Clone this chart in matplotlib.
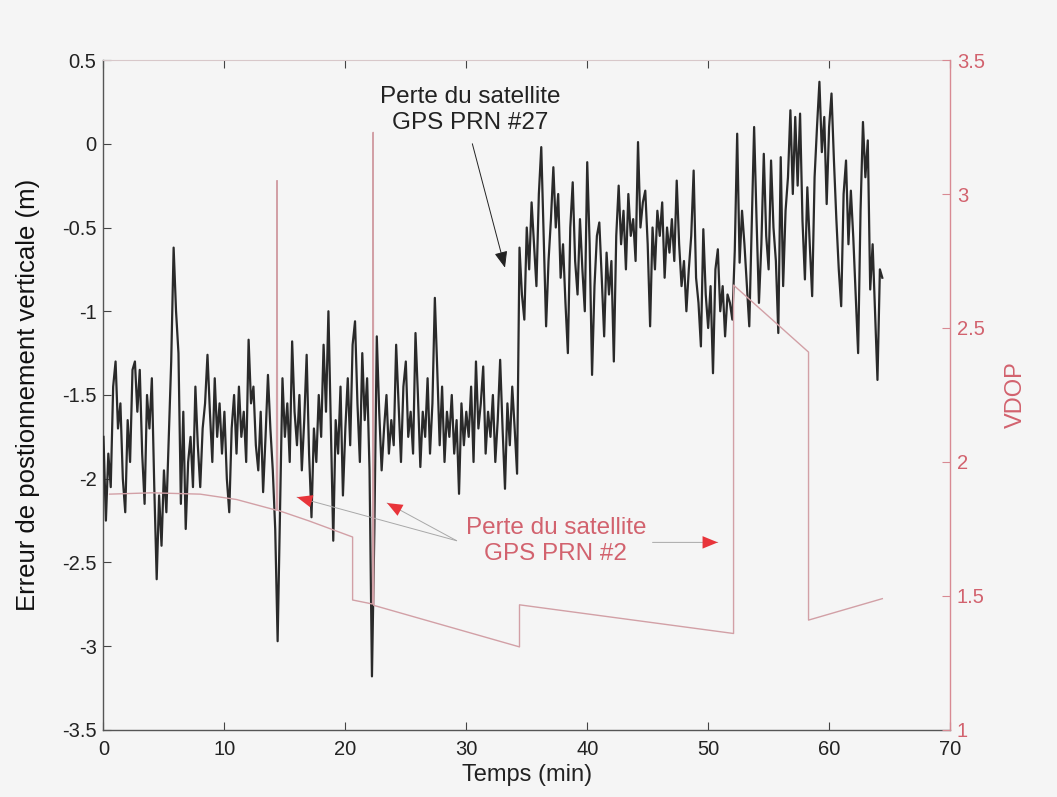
import numpy as np
import matplotlib
matplotlib.use("Agg")
import matplotlib.pyplot as plt

plt.rcParams['font.family'] = ['Liberation Sans', 'DejaVu Sans']

# Vertical positioning error (m), sampled every 0.2 min, in three runs
dt = 0.2
run_starts = [0.0, 34.4, 52.2]
err_run1 = [
    -1.75, -2.25, -1.85, -2.05, -1.45, -1.3, -1.7, -1.55, -2.0, -2.2,
    -1.65, -1.9, -1.35, -1.3, -1.6, -1.35, -1.85, -2.15, -1.5, -1.7,
    -1.4, -2.05, -2.6, -2.1, -2.4, -1.95, -2.2, -1.75, -1.3, -0.62,
    -1.0, -1.25, -2.15, -1.6, -2.3, -1.9, -1.75, -2.05, -1.45, -1.8,
    -2.05, -1.7, -1.55, -1.26, -1.6, -1.9, -1.4, -1.75, -1.55, -1.85,
    -1.6, -2.0, -2.2, -1.7, -1.5, -1.85, -1.45, -1.75, -1.6, -1.9,
    -1.17, -1.55, -1.45, -1.8, -1.95, -1.6, -2.08, -1.75, -1.38, -1.7,
    -1.95, -2.3, -2.97, -2.2, -1.4, -1.75, -1.55, -1.9, -1.18, -1.6,
    -1.8, -1.5, -1.95, -1.65, -1.26, -1.85, -2.23, -1.7, -1.9, -1.5,
    -1.75, -1.2, -1.6, -1.0, -1.7, -2.37, -1.65, -1.85, -1.45, -2.1,
    -1.7, -1.4, -1.8, -1.2, -1.06, -1.55, -1.9, -1.25, -1.65, -1.4,
    -1.95, -3.18, -2.3, -1.15, -1.6, -1.95, -1.7, -1.5, -1.85, -1.65,
    -1.8, -1.2, -1.55, -1.9, -1.45, -1.3, -1.75, -1.6, -1.85, -1.13,
    -1.5, -1.93, -1.6, -1.75, -1.4, -1.85, -1.55, -0.92, -1.35, -1.8,
    -1.45, -1.9, -1.6, -1.75, -1.5, -1.85, -1.65, -2.09, -1.55, -1.8,
    -1.6, -1.75, -1.45, -1.9, -1.3, -1.7, -1.55, -1.33, -1.85, -1.6,
    -1.75, -1.5, -1.9, -1.65, -1.29, -1.7, -2.06, -1.55, -1.8, -1.45,
    -1.7, -1.97,
]
err_run2 = [
    -0.62, -0.9, -1.05, -0.5, -0.75, -0.35, -0.6, -0.85, -0.3, -0.02,
    -0.55, -1.09, -0.7, -0.45, -0.14, -0.5, -0.3, -0.8, -0.6, -0.95,
    -1.25, -0.5, -0.23, -0.7, -0.9, -0.45, -0.75, -1.0, -0.11, -0.6,
    -1.38, -0.85, -0.55, -0.47, -0.8, -1.15, -0.65, -0.9, -0.7, -1.3,
    -0.55, -0.25, -0.6, -0.4, -0.75, -0.3, -0.55, -0.45, -0.7, 0.01,
    -0.5, -0.35, -0.28, -0.6, -1.09, -0.5, -0.75, -0.4, -0.55, -0.35,
    -0.8, -0.5, -0.65, -0.45, -0.7, -0.22, -0.6, -0.85, -0.7, -1.0,
    -0.75, -0.55, -0.16, -0.8, -0.95, -1.21, -0.51, -0.9, -1.1, -0.85,
    -1.37, -0.75, -0.63, -1.0, -0.85, -1.15, -0.9, -0.95, -1.05,
]
err_run3 = [
    -0.64, 0.06, -0.71, -0.4, -0.6, -0.85, -1.09, -0.5, 0.1, -0.45,
    -0.95, -0.6, -0.06, -0.55, -0.75, -0.1, -0.5, -0.7, -1.13, -0.08,
    -0.85, -0.4, -0.2, 0.2, -0.3, 0.16, -0.25, 0.18, -0.46, -0.81,
    -0.26, -0.6, -0.91, -0.2, 0.1, 0.37, -0.05, 0.16, -0.36, 0.1,
    0.3, -0.1, -0.45, -0.75, -0.97, -0.3, -0.1, -0.6, -0.28, -0.56,
    -0.9, -1.25, -0.4, 0.13, -0.2, 0.02, -0.87, -0.6, -1.0, -1.41,
    -0.75, -0.8,
]

# VDOP vertices (min, VDOP)
vdop_t = [0.5, 4.0, 8.0, 11.0, 14.3, 14.35, 14.4, 17.0, 20.6, 20.6,
          22.25, 22.3, 22.35, 34.4, 34.4, 52.1, 52.1, 58.3, 58.3, 64.4]
vdop_v = [1.88, 1.885, 1.88, 1.86, 1.82, 3.05, 1.82, 1.78, 1.72, 1.485,
          1.47, 3.23, 1.465, 1.31, 1.467, 1.36, 2.66, 2.41, 1.41, 1.49]

x_ticks = [0, 10, 20, 30, 40, 50, 60, 70]
y_ticks = [-3.5, -3, -2.5, -2, -1.5, -1, -0.5, 0, 0.5]
y_tick_labels = ['-3.5', '-3', '-2.5', '-2', '-1.5', '-1', '-0.5', '0', '0.5']
v_ticks = [1, 1.5, 2, 2.5, 3, 3.5]
v_tick_labels = ['1', '1.5', '2', '2.5', '3', '3.5']

bg = '#f5f5f5'
red_txt = '#d2626e'
red_axis = '#d88a93'
arrow_red = '#e8343a'

fig = plt.figure(figsize=(10.57, 7.97), dpi=100, facecolor=bg)
ax = fig.add_axes([0.0979, 0.0841, 0.8009, 0.8406])
ax.set_facecolor(bg)

all_t = np.concatenate([s + dt * np.arange(len(v)) for s, v in
                        zip(run_starts, [err_run1, err_run2, err_run3])])
all_v = np.concatenate([err_run1, err_run2, err_run3])
ax.plot(all_t, all_v, color='#2a2a2a', lw=1.6, zorder=3)

ax.set_xlim(0, 70)
ax.set_ylim(-3.5, 0.5)
ax.set_xticks(x_ticks)
ax.set_yticks(y_ticks)
ax.set_yticklabels(y_tick_labels)
ax.tick_params(direction='in', length=6, width=0.8, colors='#444444',
               labelsize=14.5, labelcolor='#222222', top=True, right=False)
ax.tick_params(axis='x', pad=7)
ax.tick_params(axis='y', pad=5)
for side in ['left', 'bottom']:
    ax.spines[side].set_color('#555555')
    ax.spines[side].set_linewidth(1.0)
ax.spines['top'].set_color('#d8c8ca')
ax.spines['right'].set_visible(False)
ax.set_xlabel('Temps (min)', fontsize=17, color='#222222', labelpad=4)
ax.set_ylabel('Erreur de postionnement verticale (m)', fontsize=18.5,
              color='#111111', labelpad=16)

ax2 = ax.twinx()
ax2.plot(vdop_t, vdop_v, color='#d2a0a6', lw=1.0, zorder=2)
ax2.set_ylim(1, 3.5)
ax2.set_yticks(v_ticks)
ax2.set_yticklabels(v_tick_labels)
ax2.tick_params(direction='in', length=6, width=0.8, colors=red_axis,
                labelsize=14.5, labelcolor=red_txt, pad=5)
ax2.spines['right'].set_color(red_axis)
ax2.spines['right'].set_linewidth(1.0)
for side in ['left', 'bottom', 'top']:
    ax2.spines[side].set_visible(False)
ax2.set_ylabel('VDOP', fontsize=17, color=red_txt, labelpad=14)

# annotations
ax.text(30.3, 0.2, 'Perte du satellite\nGPS PRN #27', ha='center',
        va='center', fontsize=17.5, color='#222222', linespacing=1.25,
        zorder=5)
ax.annotate('', xy=(33.2, -0.74), xytext=(30.5, 0.0),
            arrowprops=dict(arrowstyle='-|>,head_length=1.0,head_width=0.4',
                            color='#222222', lw=0.7, shrinkA=0, shrinkB=0),
            zorder=5)

ax.text(37.4, -2.37, 'Perte du satellite\nGPS PRN #2', ha='center',
        va='center', fontsize=17.5, color=red_txt, linespacing=1.25,
        zorder=5)
for tip, tail in [((16.0, -2.11), (29.2, -2.37)),
                  ((23.45, -2.145), (29.2, -2.37)),
                  ((50.8, -2.38), (45.4, -2.38))]:
    ax.annotate('', xy=tip, xytext=tail,
                arrowprops=dict(arrowstyle='-', color='#a8a8a8', lw=0.7,
                                shrinkA=0, shrinkB=0), zorder=5)
    ax.annotate('', xy=tip, xytext=tail,
                arrowprops=dict(arrowstyle='-|>,head_length=1.1,head_width=0.45',
                                color=arrow_red, lw=0, shrinkA=0, shrinkB=0),
                zorder=6)

fig.savefig('out.png', dpi=100, facecolor=bg)
